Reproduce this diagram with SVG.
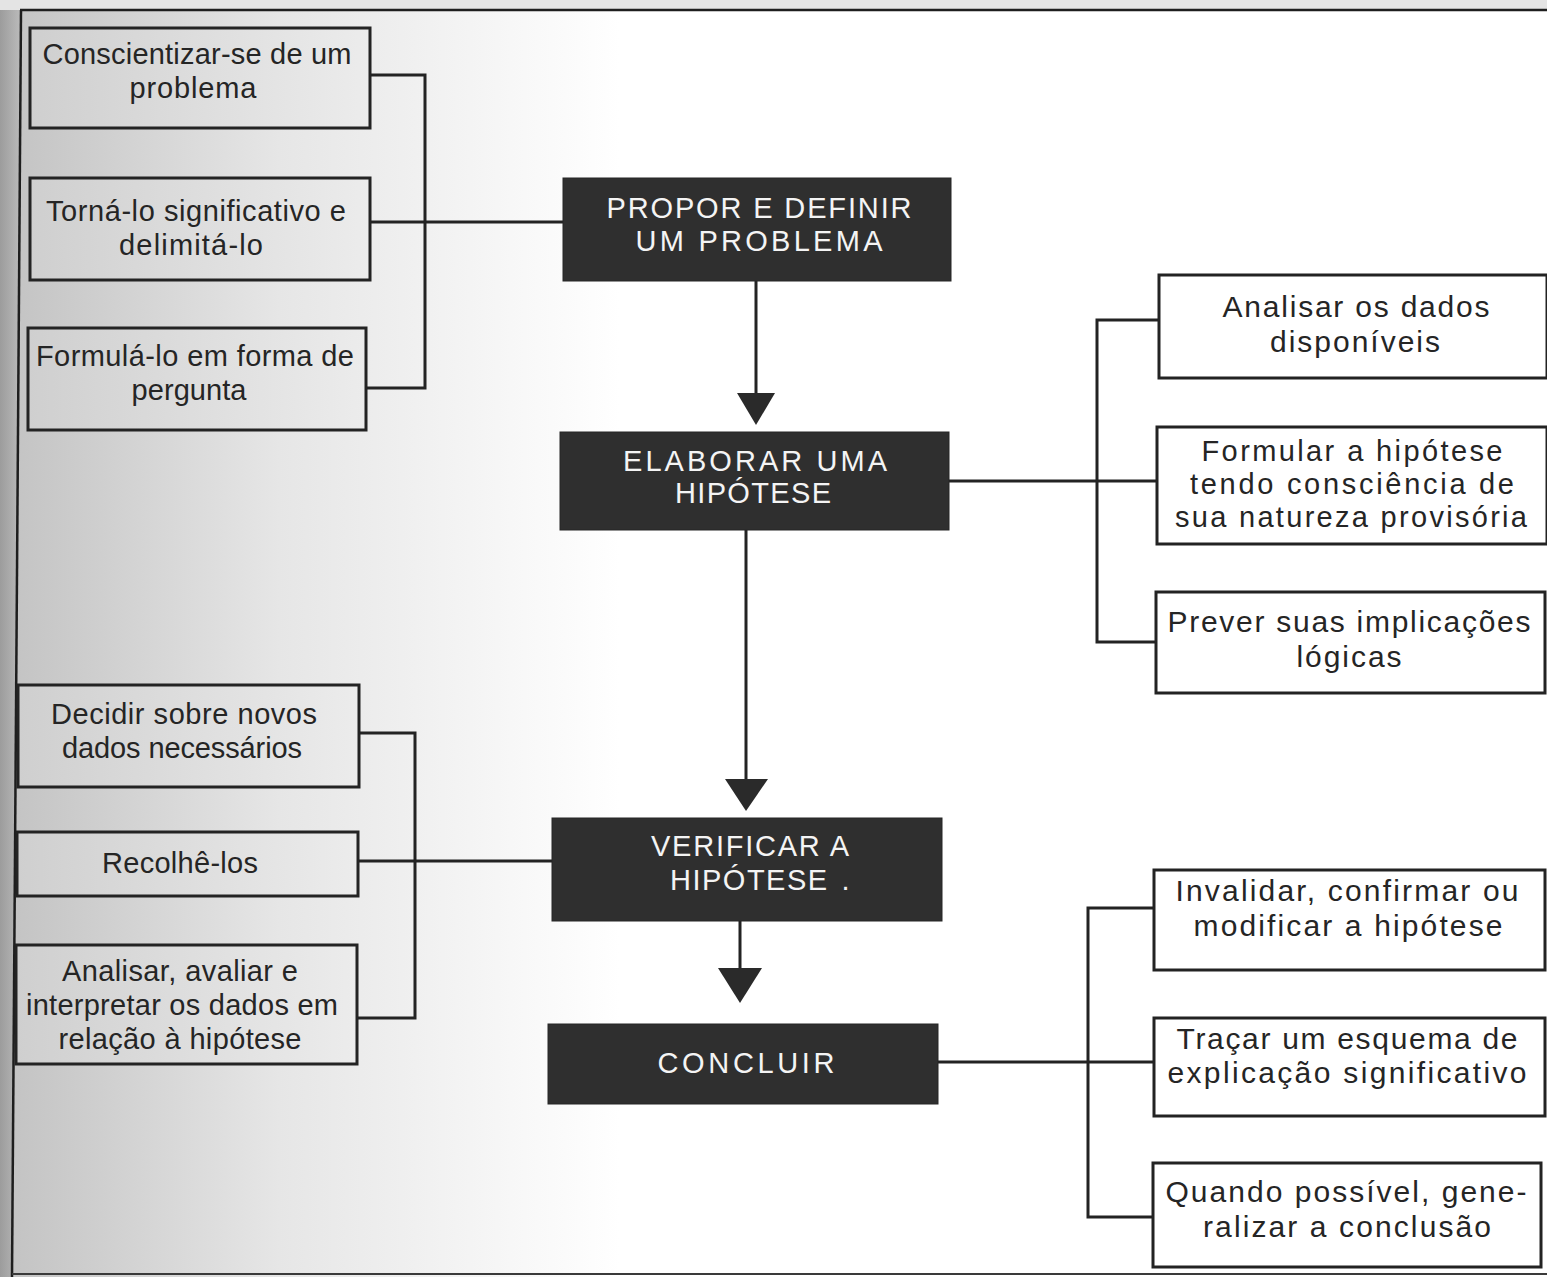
<svg xmlns="http://www.w3.org/2000/svg" width="1547" height="1277" viewBox="0 0 1547 1277">
<style>
.box{stroke:#232323;stroke-width:3;}
.lb{fill:url(#boxg);}
.rb{fill:#ffffff;}
.dk{fill:#2f2f2f;stroke:#262626;stroke-width:1;}
.t{font-family:"Liberation Sans",Arial,sans-serif;font-size:29px;fill:#252525;text-anchor:middle;}
.r{font-family:"Liberation Sans",Arial,sans-serif;font-size:30px;fill:#252525;text-anchor:middle;}
.w{font-family:"Liberation Sans",Arial,sans-serif;font-size:29px;fill:#f4f4f4;text-anchor:middle;}
.c{fill:none;stroke:#232323;stroke-width:3;}
.ah{fill:#2a2a2a;}
</style>
<defs>
<linearGradient id="bg" x1="0" y1="0" x2="1" y2="0">
<stop offset="0" stop-color="#c2c2c2"/>
<stop offset="0.45" stop-color="#e6e6e6"/>
<stop offset="1" stop-color="#ffffff"/>
</linearGradient>
<linearGradient id="edge" x1="0" y1="0" x2="1" y2="0">
<stop offset="0" stop-color="#9c9c9c"/>
<stop offset="1" stop-color="#bdbdbd"/>
</linearGradient>
<linearGradient id="boxg" x1="0" y1="0" x2="1" y2="0">
<stop offset="0" stop-color="#cfcfcf"/>
<stop offset="1" stop-color="#ececec"/>
</linearGradient>
</defs>
<g id="background">
<rect x="0" y="0" width="1547" height="1277" fill="#ffffff"/>
<rect x="0" y="0" width="620" height="1277" fill="url(#bg)"/>
<polygon points="0,0 22,0 12,1277 0,1277" fill="url(#edge)"/>
<rect x="0" y="0" width="1547" height="10" fill="#e4e4e4"/>
<path d="M20,10 H1547" fill="none" stroke="#1e1e1e" stroke-width="2.5"/>
<path d="M21,10 L12,1277" fill="none" stroke="#1e1e1e" stroke-width="2.5"/>
<path d="M12,1274 H1547" fill="none" stroke="#3a3a3a" stroke-width="2"/>
</g>
<g id="connectors">
<path class="c" d="M370,75 H425 V388 H366"/>
<path class="c" d="M370,222 H563"/>
<path class="c" d="M756,281 V396"/>
<polygon class="ah" points="737,393 775,393 756,425"/>
<path class="c" d="M949,481 H1157"/>
<path class="c" d="M1159,320 H1097 V642 H1156"/>
<path class="c" d="M746,530 V782"/>
<polygon class="ah" points="725,779 768,779 746,811"/>
<path class="c" d="M359,733 H415 V1018 H357"/>
<path class="c" d="M358,861 H552"/>
<path class="c" d="M740,921 V971"/>
<polygon class="ah" points="718,968 762,968 740,1003"/>
<path class="c" d="M938,1062 H1154"/>
<path class="c" d="M1154,908 H1088 V1217 H1153"/>
</g>
<g id="n-conscientizar">
<rect class="box lb" x="30" y="28" width="340" height="100"/>
<text class="t" x="197" y="64" textLength="309" lengthAdjust="spacing">Conscientizar-se de um</text>
<text class="t" x="193" y="98" textLength="127" lengthAdjust="spacing">problema</text>
</g>
<g id="n-torna">
<rect class="box lb" x="30" y="178" width="340" height="102"/>
<text class="t" x="196" y="221" textLength="300" lengthAdjust="spacing">Torná-lo significativo e</text>
<text class="t" x="191" y="255" textLength="144" lengthAdjust="spacing">delimitá-lo</text>
</g>
<g id="n-formula">
<rect class="box lb" x="28" y="328" width="338" height="102"/>
<text class="t" x="195" y="366" textLength="318" lengthAdjust="spacing">Formulá-lo em forma de</text>
<text class="t" x="189" y="400" textLength="115" lengthAdjust="spacing">pergunta</text>
</g>
<g id="n-propor">
<rect class="dk" x="563" y="178" width="388" height="103"/>
<text class="w" x="759" y="218" textLength="305" lengthAdjust="spacing">PROPOR E DEFINIR</text>
<text class="w" x="759" y="251" textLength="247" lengthAdjust="spacing">UM PROBLEMA</text>
</g>
<g id="n-elaborar">
<rect class="dk" x="560" y="432" width="389" height="98"/>
<text class="w" x="755" y="471" textLength="264" lengthAdjust="spacing" font-size="28">ELABORAR UMA</text>
<text class="w" x="753" y="503" textLength="156" lengthAdjust="spacing" font-size="28">HIPÓTESE</text>
</g>
<g id="n-analisar-dados">
<rect class="box rb" x="1159" y="275" width="388" height="103"/>
<text class="r" x="1356" y="317" textLength="267" lengthAdjust="spacing">Analisar os dados</text>
<text class="r" x="1355" y="352" textLength="170" lengthAdjust="spacing">disponíveis</text>
</g>
<g id="n-formular">
<rect class="box rb" x="1157" y="427" width="390" height="117"/>
<text class="t" x="1352" y="461" textLength="301" lengthAdjust="spacing">Formular a hipótese</text>
<text class="t" x="1352" y="494" textLength="324" lengthAdjust="spacing">tendo consciência de</text>
<text class="t" x="1351" y="527" textLength="352" lengthAdjust="spacing">sua natureza provisória</text>
</g>
<g id="n-prever">
<rect class="box rb" x="1156" y="592" width="389" height="101"/>
<text class="r" x="1349" y="632" textLength="363" lengthAdjust="spacing">Prever suas implicações</text>
<text class="r" x="1349" y="667" textLength="105" lengthAdjust="spacing">lógicas</text>
</g>
<g id="n-decidir">
<rect class="box lb" x="18" y="685" width="341" height="102"/>
<text class="t" x="184" y="724" textLength="266" lengthAdjust="spacing">Decidir sobre novos</text>
<text class="t" x="182" y="758" textLength="240" lengthAdjust="spacing">dados necessários</text>
</g>
<g id="n-recolhe">
<rect class="box lb" x="17" y="832" width="341" height="64"/>
<text class="t" x="180" y="873" textLength="156" lengthAdjust="spacing">Recolhê-los</text>
</g>
<g id="n-analisar-avaliar">
<rect class="box lb" x="16" y="945" width="341" height="119"/>
<text class="t" x="180" y="981" textLength="236" lengthAdjust="spacing">Analisar, avaliar e</text>
<text class="t" x="182" y="1015" textLength="312" lengthAdjust="spacing">interpretar os dados em</text>
<text class="t" x="180" y="1049" textLength="243" lengthAdjust="spacing">relação à hipótese</text>
</g>
<g id="n-verificar">
<rect class="dk" x="552" y="818" width="390" height="103"/>
<text class="w" x="750" y="856" textLength="198" lengthAdjust="spacing">VERIFICAR A</text>
<text class="w" x="670" y="890" style="text-anchor:start;letter-spacing:1.5px">HIPÓTESE<tspan x="832"> .</tspan></text>
</g>
<g id="n-concluir">
<rect class="dk" x="548" y="1024" width="390" height="80"/>
<text class="w" x="746" y="1073" textLength="177" lengthAdjust="spacing">CONCLUIR</text>
</g>
<g id="n-invalidar">
<rect class="box rb" x="1154" y="870" width="391" height="100"/>
<text class="r" x="1347" y="901" textLength="343" lengthAdjust="spacing">Invalidar, confirmar ou</text>
<text class="r" x="1348" y="936" textLength="309" lengthAdjust="spacing">modificar a hipótese</text>
</g>
<g id="n-tracar">
<rect class="box rb" x="1154" y="1018" width="391" height="98"/>
<text class="r" x="1347" y="1049" textLength="341" lengthAdjust="spacing">Traçar um esquema de</text>
<text class="r" x="1347" y="1083" textLength="359" lengthAdjust="spacing">explicação significativo</text>
</g>
<g id="n-generalizar">
<rect class="box rb" x="1153" y="1163" width="388" height="104"/>
<text class="r" x="1346" y="1202" textLength="361" lengthAdjust="spacing">Quando possível, gene-</text>
<text class="r" x="1347" y="1237" textLength="288" lengthAdjust="spacing">ralizar a conclusão</text>
</g>
</svg>
